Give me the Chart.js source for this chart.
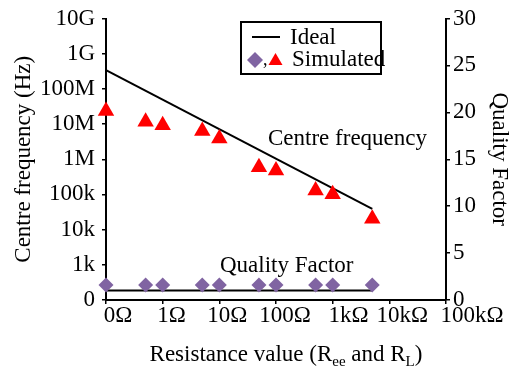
<!DOCTYPE html>
<html>
<head>
<meta charset="utf-8">
<script src="https://cdn.jsdelivr.net/npm/chart.js@4/dist/chart.umd.min.js"></script>
<style>
  html, body { margin: 0; padding: 0; background: #fff; }
  #wrap { width: 511px; height: 371px; }
</style>
</head>
<body>
<div id="wrap"><canvas id="c" width="511" height="371"></canvas></div>
<script>
// ---------------- data ----------------
const resistanceOhm      = [0, 0.5, 1, 5, 10, 50, 100, 500, 1000, 5000];
const simFrequencyHz     = [23.4e6, 11.7e6, 9.3e6, 6.3e6, 3.9e6, 589e3, 479e3, 129e3, 102e3, 20.4e3];
const simQualityFactor   = [1.6, 1.6, 1.6, 1.6, 1.6, 1.6, 1.6, 1.6, 1.6, 1.6];
const idealResistanceOhm = [0, 5000];
const idealFrequencyHz   = [339e6, 38.9e3];
const idealQualityFactor = [1, 1];

const xTickValues = [0.1, 1, 10, 100, 1e3, 1e4, 1e5];
const xTickLabels = ['0Ω', '1Ω', '10Ω', '100Ω', '1kΩ', '10kΩ', '100kΩ'];
const fTickValues = [1e2, 1e3, 1e4, 1e5, 1e6, 1e7, 1e8, 1e9, 1e10];
const fTickLabels = ['0', '1k', '10k', '100k', '1M', '10M', '100M', '1G', '10G'];
const qTickValues = [0, 5, 10, 15, 20, 25, 30];

const legendLabels = ['Ideal', 'Simulated'];
const curveLabels  = ['Centre frequency', 'Quality Factor'];
const leftTitle  = 'Centre frequency (Hz)';
const rightTitle = 'Quality Factor';
// ---------------------------------------

const ZERO_OHM_POS = xTickValues[0]; // "0Ω" sits on the first tick of the log axis
const toX = r => (r === 0 ? ZERO_OHM_POS : r);
const pairs = (xs, ys) => xs.map((x, i) => ({ x: toX(x), y: ys[i] }));

const FONT = "'Liberation Serif', 'Times New Roman', serif";
const PURPLE = '#8064A2';
const RED = '#FF0000';

const axisGrid = { display: true, drawOnChartArea: false, drawTicks: true, tickLength: 4, color: '#000', lineWidth: 1.5 };
const axisBorder = { display: true, color: '#000', width: 2 };
const tickFont = { family: FONT, size: 23, lineHeight: 1 };

// horizontal nudges of the x tick labels relative to their ticks (layout only)
const xLabelNudge = [12, 9, 8, 9, 16, 13, 26];

const extras = {
  id: 'extras',
  afterDraw(chart) {
    const ctx = chart.ctx;
    const xs = chart.scales.x;
    ctx.save();
    ctx.fillStyle = '#000';
    ctx.strokeStyle = '#000';
    const big = '23px ' + FONT, small = '15px ' + FONT;

    // x tick labels, placed from the scale
    ctx.font = big;
    ctx.textAlign = 'center';
    ctx.textBaseline = 'middle';
    xTickValues.forEach((v, i) => {
      ctx.fillText(xTickLabels[i], xs.getPixelForValue(v) + xLabelNudge[i], xs.top + 16);
    });

    ctx.textBaseline = 'alphabetic';
    ctx.textAlign = 'left';

    // curve annotations
    ctx.fillText(curveLabels[0], 268, 145);
    ctx.fillText(curveLabels[1], 220, 272);

    // bottom axis title with subscripts
    const parts = [['Resistance value (R', false], ['ee', true], [' and R', false], ['L', true], [')', false]];
    let total = 0;
    parts.forEach(([t, sub]) => { ctx.font = sub ? small : big; total += ctx.measureText(t).width; });
    let x = 286 - total / 2;
    parts.forEach(([t, sub]) => {
      ctx.font = sub ? small : big;
      ctx.fillText(t, x, sub ? 366 : 361);
      x += ctx.measureText(t).width;
    });

    // legend box
    ctx.lineWidth = 2;
    ctx.strokeRect(241, 22, 140, 52);
    ctx.beginPath();
    ctx.moveTo(252, 37); ctx.lineTo(280, 37);
    ctx.stroke();
    ctx.font = big;
    ctx.fillText(legendLabels[0], 290, 44);
    ctx.fillText(legendLabels[1], 292, 66);
    // diamond marker
    ctx.fillStyle = PURPLE;
    ctx.beginPath();
    ctx.moveTo(255, 52); ctx.lineTo(263, 60); ctx.lineTo(255, 68); ctx.lineTo(247, 60);
    ctx.closePath(); ctx.fill();
    // comma
    ctx.fillStyle = '#000';
    ctx.font = '18px ' + FONT;
    ctx.fillText(',', 263, 65);
    // triangle marker
    ctx.fillStyle = RED;
    ctx.beginPath();
    ctx.moveTo(275.5, 53); ctx.lineTo(282.5, 65); ctx.lineTo(268.5, 65);
    ctx.closePath(); ctx.fill();
    ctx.restore();
  }
};

new Chart(document.getElementById('c'), {
  type: 'scatter',
  data: {
    datasets: [
      {
        label: 'Simulated Q',
        data: pairs(resistanceOhm, simQualityFactor),
        yAxisID: 'yQ',
        pointStyle: 'rectRot',
        pointRadius: 7.5,
        pointBackgroundColor: PURPLE,
        pointBorderWidth: 0,
        showLine: false,
        clip: false
      },
      {
        label: 'Simulated f',
        data: pairs(resistanceOhm, simFrequencyHz),
        yAxisID: 'yF',
        pointStyle: 'triangle',
        pointRadius: 9.5,
        pointBackgroundColor: RED,
        pointBorderWidth: 0,
        showLine: false,
        clip: false
      },
      {
        label: 'Ideal f',
        data: pairs(idealResistanceOhm, idealFrequencyHz),
        yAxisID: 'yF',
        showLine: true,
        borderColor: '#000',
        borderWidth: 2,
        pointRadius: 0,
        clip: false
      },
      {
        label: 'Ideal Q',
        data: pairs(idealResistanceOhm, idealQualityFactor),
        yAxisID: 'yQ',
        showLine: true,
        borderColor: '#000',
        borderWidth: 2,
        pointRadius: 0,
        clip: false
      }
    ]
  },
  options: {
    responsive: false,
    animation: false,
    devicePixelRatio: 1,
    layout: { padding: { top: 16, left: 0, right: 0, bottom: 0 } },
    plugins: { legend: { display: false }, tooltip: { enabled: false } },
    scales: {
      x: {
        type: 'logarithmic',
        position: 'bottom',
        min: xTickValues[0],
        max: xTickValues[xTickValues.length - 1],
        afterBuildTicks: s => { s.ticks = xTickValues.map(v => ({ value: v })); },
        afterFit: s => { s.height = 71; },
        grid: axisGrid,
        border: axisBorder,
        ticks: {
          display: false, autoSkip: false, maxRotation: 0, minRotation: 0,
          font: tickFont, color: '#000', padding: 0,
          callback: v => xTickLabels[xTickValues.indexOf(v)]
        },
        title: { display: false }
      },
      yF: {
        type: 'logarithmic',
        position: 'left',
        min: fTickValues[0],
        max: fTickValues[fTickValues.length - 1],
        afterBuildTicks: s => { s.ticks = fTickValues.map(v => ({ value: v })); },
        afterFit: s => { s.width = 106; },
        grid: axisGrid,
        border: axisBorder,
        ticks: {
          autoSkip: false, font: tickFont, color: '#000', padding: 7,
          callback: v => fTickLabels[fTickValues.indexOf(v)]
        },
        title: {
          display: true, text: leftTitle, color: '#000',
          font: { family: FONT, size: 23, lineHeight: 1 },
          padding: { top: 12, bottom: 0 }
        }
      },
      yQ: {
        type: 'linear',
        position: 'right',
        min: qTickValues[0],
        max: qTickValues[qTickValues.length - 1],
        afterBuildTicks: s => { s.ticks = qTickValues.map(v => ({ value: v })); },
        afterFit: s => { s.width = 65; },
        grid: axisGrid,
        border: axisBorder,
        ticks: { autoSkip: false, font: tickFont, color: '#000', padding: 3 },
        title: {
          display: true, text: rightTitle, color: '#000',
          font: { family: FONT, size: 23, lineHeight: 1 },
          padding: { top: 0, bottom: 0 }
        }
      }
    }
  },
  plugins: [extras]
});
</script>
</body>
</html>
